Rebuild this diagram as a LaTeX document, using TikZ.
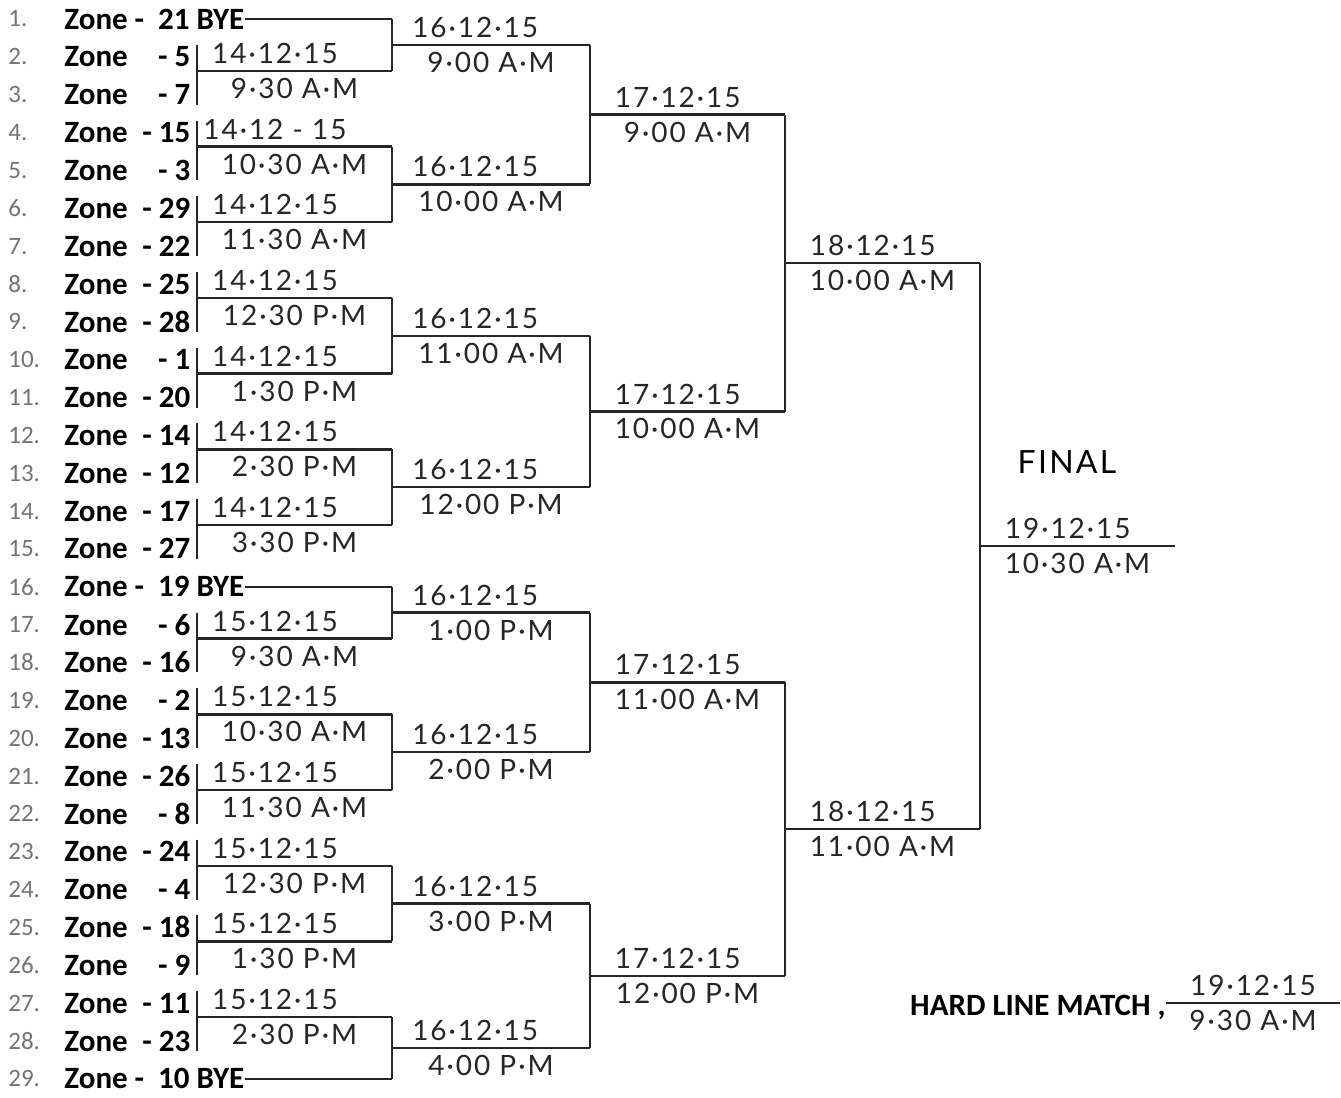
\documentclass[tikz,border=0pt]{standalone}
\usepackage{fontspec}
\setmainfont{Carlito}
\newfontfamily\handfont[LetterSpace=7]{Lato}
\usepackage{tikz}
\usetikzlibrary{calc}
\definecolor{rowgray}{RGB}{115,115,115}
\tikzset{
  bar/.style={line width=1.2pt,black!85},
  zonelbl/.style={font=\bfseries\fontsize{15.5}{17}\selectfont,inner sep=0pt},
  numlbl/.style={font=\fontsize{12.5}{14}\selectfont,text=rowgray,inner sep=0pt},
  datelbl/.style={font=\handfont\fontsize{14}{16}\selectfont,inner sep=3pt}
}

\begin{document}
\begin{tikzpicture}[x=0.5pt,y=-0.5pt]
    \fill[white] (0,0) rectangle (1341,1098);
    \useasboundingbox (0,0) rectangle (1341,1098);
    % zone list
    \foreach \i in {1,...,29} {
        \node[numlbl,anchor=west] (n\i) at (8,{19+37.85*(\i-1)}) {\i.};
    }
    \foreach \i/\z in {2/5,3/7,4/15,5/3,6/29,7/22,8/25,9/28,10/1,11/20,12/14,13/12,14/17,15/27,
                       17/6,18/16,19/2,20/13,21/26,22/8,23/24,24/4,25/18,26/9,27/11,28/23} {
        \node[zonelbl,anchor=west] (z\i) at (64,{19+37.85*(\i-1)}) {\makebox[63pt]{Zone\hfill- \z}};
    }
    \foreach \i/\z in {1/21,16/19,29/10} {
        \node[zonelbl,anchor=west] (z\i) at (64,{19+37.85*(\i-1)}) {Zone -\ \ \z\ BYE};
        \coordinate (b\i) at (392,{19+37.85*(\i-1)});
        \draw[bar] (z\i.east) -- (b\i);
    }
    % first round
    \foreach \a/\d/\t in {2/14·12·15/9·30 A·M, 4/14·12 - 15/10·30 A·M, 6/14·12·15/11·30 A·M,
                          8/14·12·15/12·30 P·M, 10/14·12·15/1·30 P·M, 12/14·12·15/2·30 P·M,
                          14/14·12·15/3·30 P·M, 17/15·12·15/9·30 A·M, 19/15·12·15/10·30 A·M,
                          21/15·12·15/11·30 A·M, 23/15·12·15/12·30 P·M, 25/15·12·15/1·30 P·M,
                          27/15·12·15/2·30 P·M} {
        \draw[bar] (197,{19+37.85*(\a-1)-12}) -- (197,{19+37.85*\a+10});
        \draw[bar] (197,{19+37.85*(\a-1)+14}) --
            node[datelbl,pos=0.4,above] {\d} node[datelbl,pos=0.5,below] {\t}
            (392,{19+37.85*(\a-1)+14}) coordinate (e\a);
    }
    % second round
    \foreach \t/\b/\n/\d/\h in {b1/e2/s1/16·12·15/9·00 A·M, e4/e6/s2/16·12·15/10·00 A·M,
                                e8/e10/s3/16·12·15/11·00 A·M, e12/e14/s4/16·12·15/12·00 P·M,
                                b16/e17/s5/16·12·15/1·00 P·M, e19/e21/s6/16·12·15/2·00 P·M,
                                e23/e25/s7/16·12·15/3·00 P·M, e27/b29/s8/16·12·15/4·00 P·M} {
        \draw[bar] (\t) -- (\b);
        \draw[bar] ($(\t)!0.5!(\b)$) --
            node[datelbl,pos=0.42,above] {\d} node[datelbl,pos=0.5,below] {\h}
            ++(198,0) coordinate (\n);
    }
    % quarter and semi finals
    \foreach \t/\b/\n/\d/\h in {s1/s2/q1/17·12·15/9·00 A·M, s3/s4/q2/17·12·15/10·00 A·M,
                                s5/s6/q3/17·12·15/11·00 A·M, s7/s8/q4/17·12·15/12·00 P·M,
                                q1/q2/h1/18·12·15/10·00 A·M, q3/q4/h2/18·12·15/11·00 A·M,
                                h1/h2/fin/19·12·15/10·30 A·M} {
        \draw[bar] (\t) -- (\b);
        \draw[bar] ($(\t)!0.5!(\b)$) --
            node[datelbl,pos=0.45,above] {\d} node[datelbl,pos=0.5,below] {\h}
            ++(195,0) coordinate (\n);
    }
    \node[datelbl,font=\handfont\fontsize{16}{18}\selectfont] (final) at (1067,462) {FINAL};
    % hard line match
    \node[zonelbl,anchor=east] (hard) at (1166,1007) {HARD LINE MATCH ,};
    \draw[bar] (hard.east) ++(0,-4) --
        node[datelbl,pos=0.5,above] {19·12·15} node[datelbl,pos=0.5,below] {9·30 A·M}
        ++(174,0) coordinate (hardend);
\end{tikzpicture}
\end{document}
